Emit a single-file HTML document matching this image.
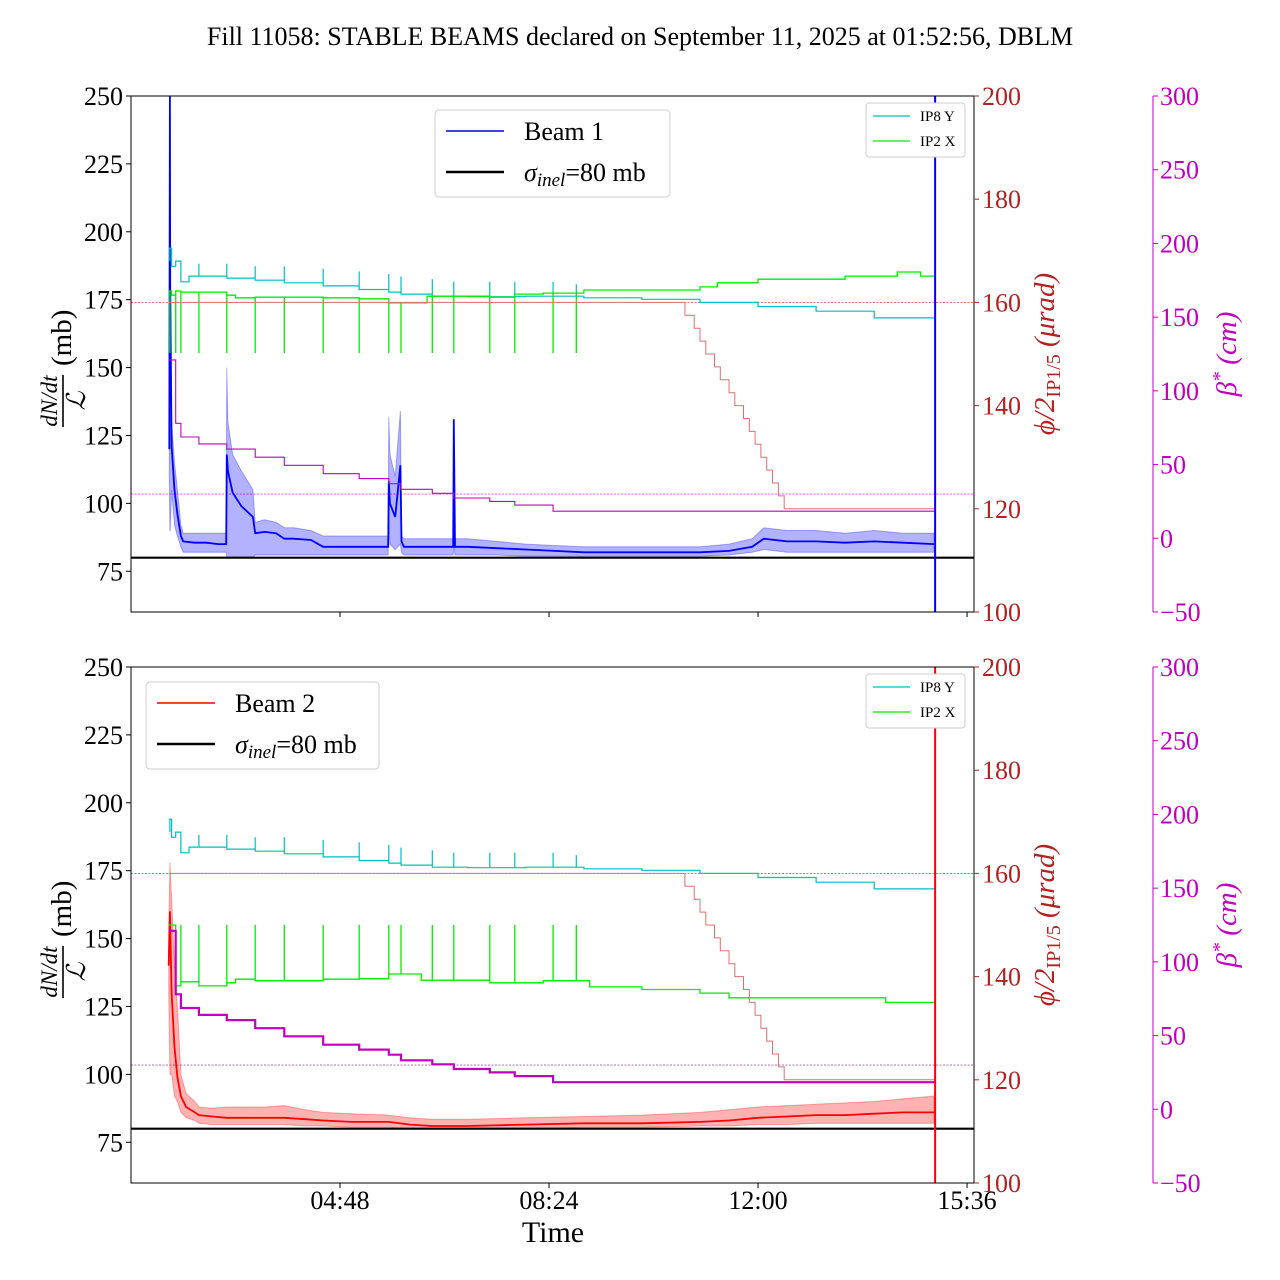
<!DOCTYPE html>
<html><head><meta charset="utf-8"><style>
html,body{margin:0;padding:0;background:#fff;}
svg{display:block;font-family:"Liberation Serif","DejaVu Serif",serif;}
</style></head><body>
<svg id="chart" width="1280" height="1280" viewBox="0 0 1280 1280" xmlns="http://www.w3.org/2000/svg">
<text x="640" y="45" font-size="26" text-anchor="middle">Fill 11058: STABLE BEAMS declared on September 11, 2025 at 01:52:56, DBLM</text>
<g id="layer"></g>
</svg>
<script>
// ---- data (time in hours of day) ----
const xTickVals = [4.8, 8.4, 12.0, 15.6];
const xTickLabels = ["04:48", "08:24", "12:00", "15:36"];
const leftTicks = [75, 100, 125, 150, 175, 200, 225, 250];
const phiTicks = [100, 120, 140, 160, 180, 200];
const betaTicks = [-50, 0, 50, 100, 150, 200, 250, 300];

const stepTimes = [1.87,1.97,2.06,2.37,2.85,3.34,3.84,4.51,5.13,5.64,5.85,6.39,6.76,7.38,7.81,8.47,8.87];

const ip8T = [1.85,1.9,1.97,2.06,2.2,2.85,3.34,3.84,4.51,5.13,5.64,5.85,6.39,7.0,8.0,9.0,10.0,11.0,12.0,13.0,14.0,15.05];
const ip8V = [170.5,167,168,164,165.1,164.7,164.3,163.8,163.2,162.5,162,161.6,161.2,161.1,161.2,160.9,160.6,160.0,159.2,158.3,157.0,155.8];
const ip8Spike = [168,168,167.5,167.5,167.5,167,167,166.5,166,165.5,165,164.5,164,164,164,164,163.5];

const ip2TopT = [1.85,1.9,1.97,2.06,2.37,2.85,3.0,3.34,3.84,4.51,5.13,5.64,5.85,6.3,7.38,7.81,8.3,9.0,10.0,11.0,11.3,12.0,12.8,13.5,14.4,14.8,15.05];
const ip2TopV = [162.2,161.4,162.2,162.0,162.0,161.4,160.9,161.0,161.0,160.9,160.7,159.9,159.9,161.2,161.0,161.6,161.8,162.4,162.4,163.0,163.8,164.5,164.5,165.1,165.9,165.1,164.7];
const ip2TopSpike = [150.2,150.2,150.2,150.2,150.2,150.2,150.2,150.2,150.2,150.2,150.2,150.2,150.2,150.2,150.2,150.2,150.2];

const ip2BotT = [1.85,1.97,2.06,2.37,2.85,3.0,3.34,4.51,5.13,5.64,6.2,7.38,8.3,9.1,10.0,11.0,11.5,12.5,13.8,14.2,15.05];
const ip2BotV = [150,138.2,139,138.2,138.8,139.5,139.2,139.5,139.6,140.5,139.3,138.8,139.2,138,137.5,136.8,135.9,135.9,135.9,135,135.5];
const ip2BotSpike = [150,150,150,150,150,150,150,150,150,150,150,150,150,150,150,150,150];

const xingT = [1.85,10.74,10.9,11.0,11.1,11.25,11.35,11.5,11.6,11.75,11.85,11.95,12.05,12.15,12.25,12.35,12.45,15.05];
const xingV = [160,157.5,155,152.5,150,147.5,145,142.5,140,137.5,135,132.5,130,127.5,125,122.5,120,120];

const betaT = [1.85,1.97,2.06,2.37,2.85,3.34,3.84,4.51,5.13,5.64,5.85,6.39,6.76,7.38,7.81,8.47,15.05];
const betaV = [121,78,68.7,64,60.5,55,49.5,43.8,40.5,37,33.2,30.5,27.3,25,22.5,18.4,18.4];

const b1T = [1.86,1.87,1.875,1.9,1.95,2.0,2.06,2.1,2.3,2.5,2.7,2.84,2.85,2.87,2.95,3.1,3.3,3.34,3.5,3.7,3.84,4.0,4.3,4.51,4.8,5.1,5.4,5.63,5.64,5.66,5.75,5.84,5.86,5.9,6.0,6.3,6.75,6.76,6.78,7.0,7.5,8.0,8.5,9.0,10,11,11.5,11.9,12.1,12.5,13,13.5,14,14.5,15.03];
const b1Med = [120,250,180,121,105,96,88,86,85.5,85.5,85,85,118,112,104,99,95,89,89.5,89,87,87,86.5,84,84,84,84,84,108,100,95,114,86,84,84,84,84,131,84,84,83.5,83,82.5,82,82,82,82.5,84,87,86,86,85.5,86,85.5,85];
const b1Lo = [110,90,90,105,92,88,84,82,82,82,82,82,80,80,80,80,80,81,81,81,81,81,81,81,81,81,81,81,95,85,83,85,82,81,81,81,81,84,81,81,81,80.5,80.5,80.5,80.5,80.5,81,82,83,82,82,82,82,82,82];
const b1Hi = [125,250,200,130,115,105,92,89,89,89,89,89,150,130,118,112,105,93,94,93,91,91,90,88,88,88,88,88,132,118,110,134,88,87,87,87,87,131,87,87,86,85,84.5,84,84,84,85,87,91,90,90,89,90,89,89];

const b2T = [1.85,1.87,1.9,1.95,2.0,2.06,2.15,2.3,2.37,2.6,2.85,3.2,3.5,3.84,4.2,4.51,5.0,5.64,6.0,6.39,7,8,9,10,11,11.5,12,12.5,13,13.5,14,14.5,15.03];
const b2Med = [140,160,130,110,99,92,88,86,85,84.5,84,84,84,84,83.5,83,82.5,82.5,81.5,81,81,81.5,82,82,82.5,83,84,84.5,85,85,85.5,86,86];
const b2Lo = [130,100,100,92,90,86,84,83,82,81.5,81.5,81.5,81.5,81.5,81,81,80.5,80.5,80,80,80,80,80.5,80.5,81,81,81.5,81.5,82,82,82,82,82];
const b2Hi = [150,178,165,140,125,100,93,90,88,87.5,88,88,88,88.5,87,86,85.5,85,84,83.5,83.5,84,84.5,85,86,87,88,88.5,89,89.5,90,91,92];

const sigmaInel = 80;
const endTime = 15.05;
const refPhi = 160;
const refBeta = 30;

// ---- geometry ----
const X0 = 131, X1 = 974, H = 516;
const panels = [{top:96, name:'top'}, {top:667, name:'bottom'}];
const NS = 'http://www.w3.org/2000/svg';
const layer = document.getElementById('layer');
function xs(t){ return 340 + (t - 4.8) * 58.06; }
function yL(v, top){ return top + (250 - v) * H / 190; }
function yP(v, top){ return top + (200 - v) * H / 100; }
function yB(v, top){ return top + (300 - v) * H / 350; }
function mk(tag, attrs, parent){
  const e = document.createElementNS(NS, tag);
  for (const k in attrs) e.setAttribute(k, attrs[k]);
  (parent || layer).appendChild(e);
  return e;
}
function stepPath(T, V, sx, sy, spikeT, spikeV){
  const ev = [];
  if (spikeT) for (let i = 0; i < spikeT.length; i++) ev.push([spikeT[i], spikeV[i]]);
  let d = 'M' + sx(T[0]).toFixed(1) + ',' + sy(V[0]).toFixed(1);
  let cur = V[0];
  let k = 0;
  for (let i = 1; i < T.length; i++){
    while (k < ev.length && ev[k][0] < T[i]){
      const xx = sx(ev[k][0]).toFixed(1);
      d += 'L' + xx + ',' + sy(cur).toFixed(1) + 'L' + xx + ',' + sy(ev[k][1]).toFixed(1) + 'L' + xx + ',' + sy(cur).toFixed(1);
      k++;
    }
    const xx = sx(T[i]).toFixed(1);
    d += 'L' + xx + ',' + sy(cur).toFixed(1) + 'L' + xx + ',' + sy(V[i]).toFixed(1);
    cur = V[i];
  }
  return d;
}
function linePath(T, V, sx, sy){
  return T.map((t, i) => (i ? 'L' : 'M') + sx(t).toFixed(1) + ',' + sy(V[i]).toFixed(1)).join('');
}
function bandPath(T, Lo, Hi, sx, sy){
  let d = T.map((t, i) => (i ? 'L' : 'M') + sx(t).toFixed(1) + ',' + sy(Hi[i]).toFixed(1)).join('');
  for (let i = T.length - 1; i >= 0; i--) d += 'L' + sx(T[i]).toFixed(1) + ',' + sy(Lo[i]).toFixed(1);
  return d + 'Z';
}

panels.forEach((p, pi) => {
  const top = p.top, bot = top + H;
  const g = mk('g', {});
  
  
  const clipId = 'clip' + pi;
  const cp = mk('clipPath', {id: clipId}, g);
  mk('rect', {x: X0, y: top, width: X1 - X0, height: H}, cp);
  const plot = mk('g', {'clip-path': 'url(#' + clipId + ')'}, g);
  
  
  const sL = v => yL(v, top), sP = v => yP(v, top), sB = v => yB(v, top);

  let e = mk('line', {x1: X0, x2: X1, y1: sP(refPhi), y2: sP(refPhi), stroke: pi ? '#a05050' : '#e04040', 'stroke-width': 0.8, 'stroke-dasharray': '2,1.5'}, plot);
  
  
  e = mk('line', {x1: X0, x2: X1, y1: sB(refBeta), y2: sB(refBeta), stroke: pi ? '#a060a0' : '#ff40ff', 'stroke-width': 0.8, 'stroke-dasharray': '2,1.5'}, plot);
  
  

  const T = pi ? b2T : b1T, M = pi ? b2Med : b1Med, LO = pi ? b2Lo : b1Lo, HI = pi ? b2Hi : b1Hi;
  const col = pi ? '#ff0000' : '#0000ff';
  e = mk('path', {d: bandPath(T, LO, HI, xs, sL), fill: pi ? 'rgba(255,0,0,0.3)' : 'rgba(0,0,255,0.3)', stroke: pi ? 'rgba(255,0,0,0.3)' : 'rgba(0,0,255,0.3)', 'stroke-width': 1}, plot);
  
  
  e = mk('path', {d: linePath(T, M, xs, sL), fill: 'none', stroke: col, 'stroke-width': 1.8}, plot);
  
  

  e = mk('line', {x1: X0, x2: X1, y1: sL(sigmaInel), y2: sL(sigmaInel), stroke: '#000', 'stroke-width': 2.2}, plot);
  
  

  e = mk('path', {d: stepPath(ip8T, ip8V, xs, sP, stepTimes, ip8Spike), fill: 'none', stroke: '#00bfbf', 'stroke-width': 1.2}, plot);
  
  
  e = mk('path', {d: pi ? stepPath(ip2BotT, ip2BotV, xs, sP, stepTimes, ip2BotSpike) : stepPath(ip2TopT, ip2TopV, xs, sP, stepTimes, ip2TopSpike), fill: 'none', stroke: '#00ee00', 'stroke-width': 1.3}, plot);
  
  
  e = mk('path', {d: stepPath(xingT, xingV, xs, sP), fill: 'none', stroke: '#e07070', 'stroke-width': 1}, plot);
  
  
  e = mk('path', {d: stepPath(betaT, betaV, xs, sB), fill: 'none', stroke: '#bf00bf', 'stroke-width': pi ? 2.2 : 1.1}, plot);
  
  

  e = mk('line', {x1: xs(endTime), x2: xs(endTime), y1: top, y2: bot, stroke: col, 'stroke-width': 2}, plot);
  
  

  e = mk('rect', {x: X0, y: top, width: X1 - X0, height: H, fill: 'none', stroke: '#000', 'stroke-width': 1}, g);
  
  

  leftTicks.forEach(v => {
    const y = sL(v);
    mk('line', {x1: X0 - 5, x2: X0, y1: y, y2: y, stroke: '#000'}, g);
    const t = mk('text', {x: X0 - 8, y: y + 9, 'font-size': 26, 'text-anchor': 'end'}, g);
    t.textContent = v;
    
    
  });
  xTickVals.forEach((v, i) => {
    const x = xs(v);
    mk('line', {x1: x, x2: x, y1: bot, y2: bot + 5, stroke: '#000'}, g);
    if (pi){
      const t = mk('text', {x: x, y: bot + 26, 'font-size': 26, 'text-anchor': 'middle'}, g);
      t.textContent = xTickLabels[i];
      
      
    }
  });
  phiTicks.forEach(v => {
    const y = sP(v);
    mk('line', {x1: X1, x2: X1 + 5, y1: y, y2: y, stroke: '#b22222'}, g);
    const t = mk('text', {x: X1 + 8, y: y + 9, 'font-size': 26, fill: '#b22222'}, g);
    t.textContent = v;
    
    
  });
  const BX = 1153;
  e = mk('line', {x1: BX, x2: BX, y1: top, y2: bot, stroke: '#bf00bf', 'stroke-width': 1}, g);
  
  
  betaTicks.forEach(v => {
    const y = sB(v);
    mk('line', {x1: BX, x2: BX + 5, y1: y, y2: y, stroke: '#bf00bf'}, g);
    const t = mk('text', {x: BX + 7, y: y + 9, 'font-size': 26, fill: '#bf00bf'}, g);
    t.textContent = v < 0 ? '\u221250' : v;
    
    
  });

  const cy = top + 258;
  const yl = mk('g', {transform: 'translate(62,' + cy + ') rotate(-90)'}, g);
  
  
  let t = mk('text', {x: -47, y: -5, 'font-size': 23, 'font-style': 'italic', 'text-anchor': 'middle'}, yl); t.textContent = 'dN/dt';
  mk('line', {x1: -73, x2: -21, y1: 1, y2: 1, stroke: '#000', 'stroke-width': 1.6}, yl);
  t = mk('text', {x: -47, y: 23, 'font-size': 26, 'font-style': 'italic', 'text-anchor': 'middle'}, yl); t.textContent = '\u2112';
  t = mk('text', {x: -12, y: 9, 'font-size': 29}, yl); t.textContent = '(mb)';
  const pl = mk('text', {transform: 'translate(1054,' + cy + ') rotate(-90)', 'font-size': 29, fill: '#b22222', 'text-anchor': 'middle'}, g);
  
  
  pl.innerHTML = '<tspan font-style="italic">\u03d5/2</tspan><tspan font-size="20" dy="6">IP1/5</tspan><tspan dy="-6" font-style="italic"> (\u03bcrad)</tspan>';
  const bl = mk('text', {transform: 'translate(1236,' + cy + ') rotate(-90)', 'font-size': 29, fill: '#bf00bf', 'text-anchor': 'middle', 'font-style': 'italic'}, g);
  
  
  bl.innerHTML = '\u03b2<tspan dy="-10" font-size="20">*</tspan><tspan dy="10"> (cm)</tspan>';

  const lx = pi ? 146 : 435, ly = pi ? 682 : 110, lw = pi ? 233 : 235;
  const lg = mk('g', {}, g);
  
  
  mk('rect', {x: lx, y: ly, width: lw, height: 87, rx: 4, fill: '#fff', stroke: '#ccc'}, lg);
  mk('line', {x1: lx + 11, x2: lx + 69, y1: ly + 21, y2: ly + 21, stroke: col, 'stroke-width': 1.5}, lg);
  t = mk('text', {x: lx + 89, y: ly + 30, 'font-size': 26}, lg); t.textContent = pi ? 'Beam 2' : 'Beam 1';
  mk('line', {x1: lx + 11, x2: lx + 69, y1: ly + 62, y2: ly + 62, stroke: '#000', 'stroke-width': 2.5}, lg);
  t = mk('text', {x: lx + 89, y: ly + 71, 'font-size': 26}, lg);
  t.innerHTML = '<tspan font-style="italic">\u03c3</tspan><tspan font-style="italic" font-size="19" dy="5">inel</tspan><tspan dy="-5">=80 mb</tspan>';
  const sg = mk('g', {}, g);
  
  
  mk('rect', {x: 866, y: top + 7, width: 99, height: 54, rx: 3, fill: '#fff', stroke: '#ccc'}, sg);
  mk('line', {x1: 873, x2: 910, y1: top + 20, y2: top + 20, stroke: '#00bfbf', 'stroke-width': 1.2}, sg);
  t = mk('text', {x: 920, y: top + 25, 'font-size': 15}, sg); t.textContent = 'IP8 Y';
  mk('line', {x1: 873, x2: 910, y1: top + 45, y2: top + 45, stroke: '#00ee00', 'stroke-width': 1.2}, sg);
  t = mk('text', {x: 920, y: top + 50, 'font-size': 15}, sg); t.textContent = 'IP2 X';
});
const xt = mk('text', {x: 553, y: 1242, 'font-size': 30, 'text-anchor': 'middle'});
xt.textContent = 'Time';


</script>
</body></html>
